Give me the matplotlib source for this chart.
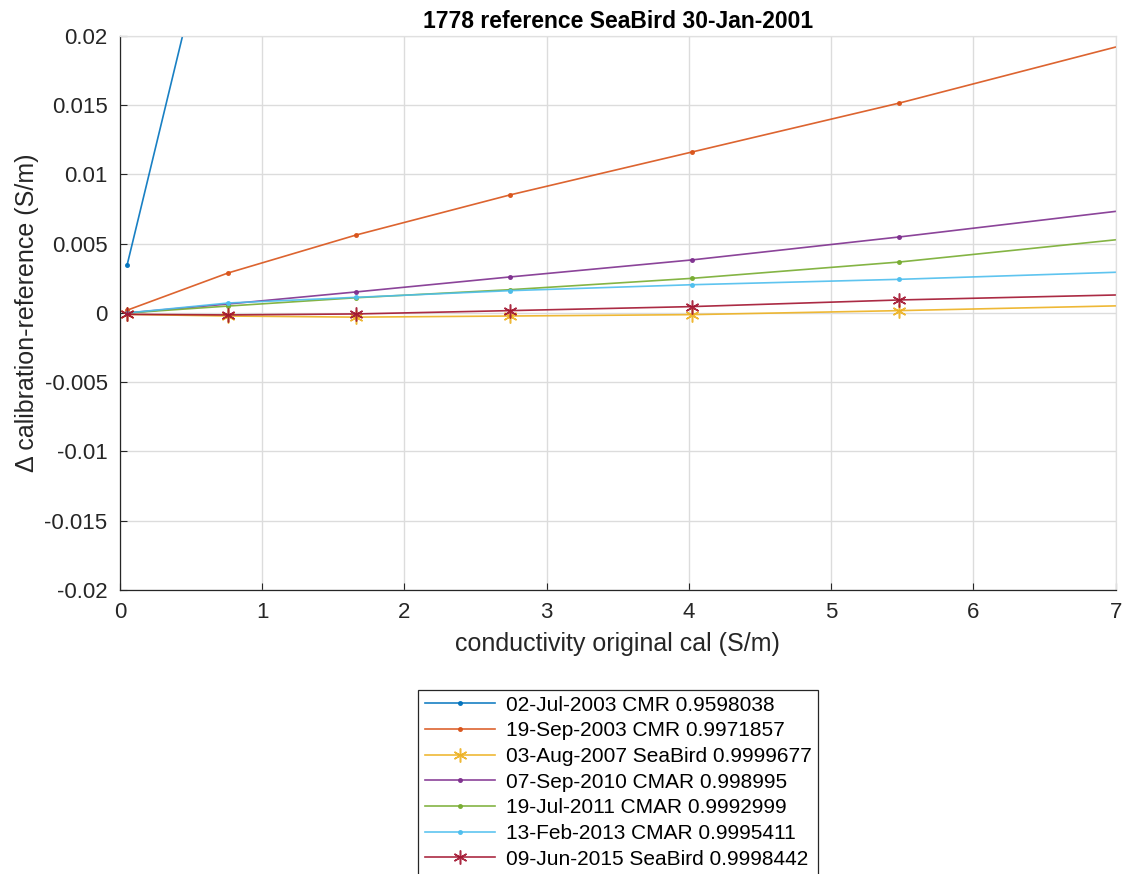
import matplotlib
matplotlib.use('Agg')
import matplotlib.pyplot as plt
from matplotlib.ticker import FuncFormatter

plt.rcParams['font.family'] = ['Liberation Sans', 'DejaVu Sans']
plt.rcParams['axes.unicode_minus'] = False

# conductivity points (S/m); last point lies just past the right edge
x = [0.05, 0.76, 1.66, 2.74, 4.02, 5.48, 7.3]

labels = ['02-Jul-2003 CMR 0.9598038',
          '19-Sep-2003 CMR 0.9971857',
          '03-Aug-2007 SeaBird 0.9999677',
          '07-Sep-2010 CMAR 0.998995',
          '19-Jul-2011 CMAR 0.9992999',
          '13-Feb-2013 CMAR 0.9995411',
          '09-Jun-2015 SeaBird 0.9998442']

cmr_2003a = [0.00347, 0.0336, 0.0718, 0.118, 0.172, 0.234, 0.300]
cmr_2003b = [0.0002, 0.00289, 0.00563, 0.00852, 0.01162, 0.01516, 0.0200]
seabird_2007 = [-0.0001, -0.00022, -0.0003, -0.00022, -0.00012, 0.00017, 0.00058]
cmar_2010 = [0.0, 0.00065, 0.00152, 0.0026, 0.00383, 0.00549, 0.0077]
cmar_2011 = [0.0, 0.0005, 0.0011, 0.00168, 0.0025, 0.00368, 0.0056]
cmar_2013 = [0.0, 0.00072, 0.00113, 0.00161, 0.00204, 0.00243, 0.00304]
seabird_2015 = [-0.0001, -0.00014, -0.00007, 0.00017, 0.00046, 0.00094, 0.00137]

series = [cmr_2003a, cmr_2003b, seabird_2007, cmar_2010, cmar_2011, cmar_2013, seabird_2015]
colors = ['#0072BD', '#D95319', '#EDB120', '#7E2F8E', '#77AC30', '#4DBEEE', '#A2142F']
markers = ['.', '.', (6, 2, 0), '.', '.', '.', (6, 2, 0)]
msizes = [5, 5, 10, 5, 5, 5, 10]

fig = plt.figure(figsize=(11.28, 8.74), dpi=100)
ax = fig.add_axes([0.1064, 0.325, 0.8826, 0.6338])

for ys, c, m, ms, lab in zip(series, colors, markers, msizes, labels):
    ax.plot(x, ys, color=c, marker=m, markersize=ms, linewidth=1.2,
            markeredgewidth=1.1, label=lab, alpha=0.9)

ax.set_xlim(0, 7)
ax.set_ylim(-0.02, 0.02)
ax.set_yticks([-0.02, -0.015, -0.01, -0.005, 0, 0.005, 0.01, 0.015, 0.02])
ax.yaxis.set_major_formatter(FuncFormatter(lambda v, p: '%g' % round(v, 4)))
ax.grid(True, color='#dcdcdc', linewidth=1)
ax.set_axisbelow(True)
ax.tick_params(direction='in', labelsize=16, colors='#262626', length=5, pad=9,
               top=False, right=False)
for s in ax.spines.values():
    s.set_color('#262626')
    s.set_linewidth(0.9)
for s in ['top', 'right']:
    ax.spines[s].set_color('#e0e0e0')

ax.set_xlabel('conductivity original cal (S/m)', fontsize=18, color='#262626', labelpad=6)
ax.set_ylabel('Δ calibration-reference (S/m)', fontsize=18, color='#262626', labelpad=4)
ax.set_title('1778 reference SeaBird 30-Jan-2001', fontsize=16.5, fontweight='bold', pad=6)

leg = fig.legend(loc='upper center', bbox_to_anchor=(0.548, 0.223), fontsize=15,
                 fancybox=False, edgecolor='#262626', framealpha=1,
                 handlelength=3.4, labelspacing=0.32, borderpad=0.3, handletextpad=0.5)
leg.get_frame().set_linewidth(0.9)

fig.savefig('out.png', dpi=100)
